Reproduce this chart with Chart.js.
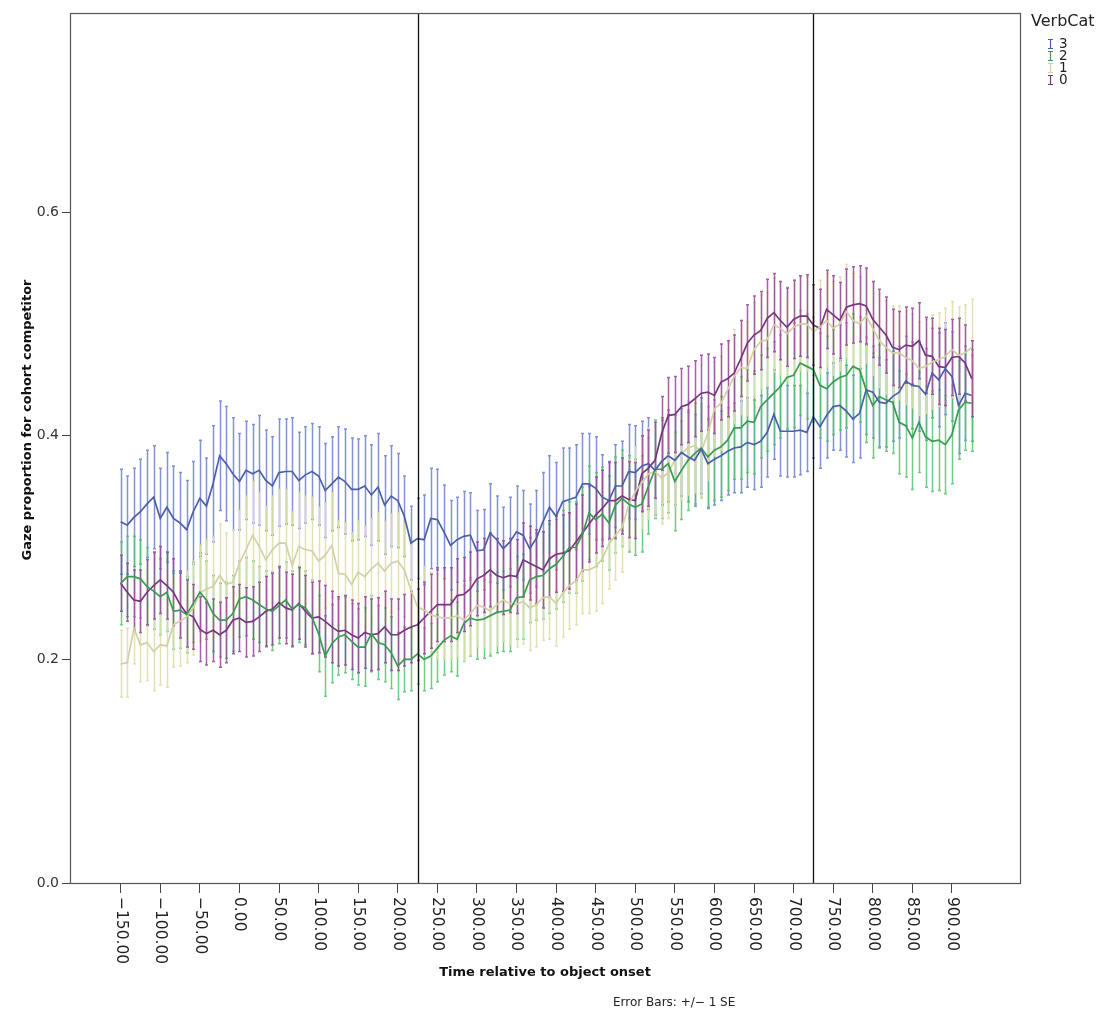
<!DOCTYPE html>
<html>
<head>
<meta charset="utf-8">
<title>Gaze proportion for cohort competitor</title>
<script src="https://cdn.jsdelivr.net/npm/chart.js@4.4.1/dist/chart.umd.min.js"></script>
<style>
  html, body { margin: 0; padding: 0; background: #fff; }
  #wrap { width: 1097px; height: 1010px; }
</style>
</head>
<body>
<div id="wrap"><canvas id="gazeChart" width="1097" height="1010"></canvas></div>
<script>
// --- data (time in ms, proportions, +/- 1 SE) ---

const times = [
  -150, -141.67, -133.33, -125, -116.67, -108.33, -100, -91.67, -83.33, -75,
  -66.67, -58.33, -50, -41.67, -33.33, -25, -16.67, -8.33, 0, 8.33,
  16.67, 25, 33.33, 41.67, 50, 58.33, 66.67, 75, 83.33, 91.67,
  100, 108.33, 116.67, 125, 133.33, 141.67, 150, 158.33, 166.67, 175,
  183.33, 191.67, 200, 208.33, 216.67, 225, 233.33, 241.67, 250, 258.33,
  266.67, 275, 283.33, 291.67, 300, 308.33, 316.67, 325, 333.33, 341.67,
  350, 358.33, 366.67, 375, 383.33, 391.67, 400, 408.33, 416.67, 425,
  433.33, 441.67, 450, 458.33, 466.67, 475, 483.33, 491.67, 500, 508.33,
  516.67, 525, 533.33, 541.67, 550, 558.33, 566.67, 575, 583.33, 591.67,
  600, 608.33, 616.67, 625, 633.33, 641.67, 650, 658.33, 666.67, 675,
  683.33, 691.67, 700, 708.33, 716.67, 725, 733.33, 741.67, 750, 758.33,
  766.67, 775, 783.33, 791.67, 800, 808.33, 816.67, 825, 833.33, 841.67,
  850, 858.33, 866.67, 875, 883.33, 891.67, 900, 908.33, 916.67, 925
];

const verbCat3 = [
  0.323, 0.320, 0.327, 0.332, 0.339, 0.345, 0.326, 0.336, 0.326, 0.322,
  0.316, 0.332, 0.344, 0.337, 0.357, 0.382, 0.375, 0.366, 0.359, 0.369,
  0.366, 0.369, 0.360, 0.355, 0.367, 0.368, 0.368, 0.360, 0.365, 0.368,
  0.364, 0.351, 0.357, 0.363, 0.359, 0.352, 0.352, 0.355, 0.347, 0.354,
  0.338, 0.346, 0.342, 0.328, 0.304, 0.308, 0.307, 0.326, 0.325, 0.314,
  0.302, 0.307, 0.310, 0.311, 0.297, 0.298, 0.313, 0.307, 0.299, 0.305,
  0.314, 0.311, 0.299, 0.308, 0.323, 0.336, 0.328, 0.341, 0.343, 0.345,
  0.357, 0.357, 0.353, 0.345, 0.342, 0.355, 0.355, 0.368, 0.367, 0.373,
  0.375, 0.369, 0.377, 0.382, 0.378, 0.385, 0.381, 0.378, 0.388, 0.375,
  0.379, 0.382, 0.386, 0.389, 0.390, 0.394, 0.392, 0.395, 0.403, 0.419,
  0.404, 0.404, 0.404, 0.405, 0.403, 0.417, 0.408, 0.418, 0.426, 0.427,
  0.422, 0.415, 0.420, 0.441, 0.439, 0.430, 0.429, 0.435, 0.439, 0.449,
  0.445, 0.444, 0.437, 0.456, 0.450, 0.460, 0.453, 0.427, 0.438, 0.436
];
const verbCat3Se = [
  0.047, 0.044, 0.044, 0.047, 0.048, 0.046, 0.045, 0.049, 0.047, 0.045,
  0.044, 0.045, 0.052, 0.043, 0.052, 0.049, 0.051, 0.050, 0.043, 0.044,
  0.044, 0.049, 0.045, 0.044, 0.048, 0.047, 0.048, 0.043, 0.043, 0.043,
  0.044, 0.042, 0.042, 0.045, 0.047, 0.046, 0.045, 0.045, 0.045, 0.048,
  0.044, 0.045, 0.042, 0.036, 0.033, 0.036, 0.040, 0.045, 0.045, 0.042,
  0.040, 0.038, 0.040, 0.038, 0.036, 0.036, 0.044, 0.039, 0.037, 0.040,
  0.041, 0.040, 0.040, 0.043, 0.044, 0.046, 0.048, 0.048, 0.046, 0.047,
  0.045, 0.045, 0.046, 0.038, 0.035, 0.037, 0.040, 0.042, 0.042, 0.040,
  0.041, 0.040, 0.039, 0.041, 0.040, 0.039, 0.040, 0.041, 0.040, 0.040,
  0.041, 0.040, 0.039, 0.040, 0.041, 0.040, 0.040, 0.041, 0.040, 0.040,
  0.040, 0.041, 0.041, 0.040, 0.035, 0.037, 0.037, 0.038, 0.039, 0.040,
  0.041, 0.039, 0.040, 0.040, 0.041, 0.040, 0.039, 0.040, 0.041, 0.040,
  0.039, 0.040, 0.041, 0.040, 0.042, 0.041, 0.040, 0.043, 0.042, 0.041
];

const verbCat2 = [
  0.268, 0.274, 0.274, 0.272, 0.265, 0.261, 0.256, 0.260, 0.243, 0.244,
  0.240, 0.250, 0.260, 0.253, 0.241, 0.235, 0.235, 0.241, 0.254, 0.256,
  0.253, 0.249, 0.245, 0.243, 0.248, 0.253, 0.245, 0.249, 0.246, 0.238,
  0.223, 0.203, 0.214, 0.220, 0.222, 0.216, 0.211, 0.211, 0.223, 0.215,
  0.213, 0.206, 0.194, 0.200, 0.200, 0.205, 0.200, 0.203, 0.210, 0.217,
  0.221, 0.218, 0.232, 0.237, 0.235, 0.236, 0.239, 0.242, 0.243, 0.244,
  0.255, 0.256, 0.271, 0.274, 0.275, 0.281, 0.285, 0.292, 0.300, 0.300,
  0.312, 0.331, 0.325, 0.330, 0.322, 0.338, 0.344, 0.339, 0.336, 0.339,
  0.355, 0.370, 0.370, 0.375, 0.359, 0.369, 0.378, 0.384, 0.389, 0.381,
  0.387, 0.390, 0.396, 0.407, 0.407, 0.413, 0.412, 0.426, 0.432, 0.438,
  0.444, 0.452, 0.454, 0.465, 0.462, 0.459, 0.445, 0.442, 0.448, 0.452,
  0.454, 0.462, 0.459, 0.441, 0.427, 0.435, 0.432, 0.430, 0.412, 0.409,
  0.398, 0.412, 0.399, 0.395, 0.396, 0.392, 0.401, 0.423, 0.430, 0.429
];
const verbCat2Se = [
  0.037, 0.036, 0.036, 0.035, 0.035, 0.034, 0.034, 0.035, 0.034, 0.034,
  0.034, 0.035, 0.035, 0.035, 0.034, 0.033, 0.034, 0.034, 0.034, 0.035,
  0.035, 0.034, 0.034, 0.035, 0.034, 0.034, 0.034, 0.034, 0.033, 0.033,
  0.034, 0.036, 0.035, 0.034, 0.034, 0.034, 0.034, 0.035, 0.034, 0.033,
  0.033, 0.032, 0.030, 0.029, 0.028, 0.027, 0.028, 0.029, 0.030, 0.031,
  0.032, 0.033, 0.034, 0.034, 0.035, 0.035, 0.036, 0.036, 0.036, 0.037,
  0.037, 0.038, 0.038, 0.039, 0.039, 0.040, 0.040, 0.041, 0.041, 0.041,
  0.042, 0.042, 0.042, 0.042, 0.042, 0.043, 0.043, 0.043, 0.043, 0.043,
  0.043, 0.044, 0.044, 0.044, 0.044, 0.044, 0.045, 0.045, 0.045, 0.045,
  0.045, 0.045, 0.045, 0.046, 0.046, 0.046, 0.046, 0.046, 0.046, 0.046,
  0.046, 0.046, 0.047, 0.047, 0.047, 0.047, 0.047, 0.047, 0.047, 0.047,
  0.047, 0.047, 0.047, 0.047, 0.047, 0.046, 0.046, 0.046, 0.046, 0.046,
  0.046, 0.045, 0.045, 0.045, 0.045, 0.044, 0.044, 0.044, 0.043, 0.043
];

const verbCat1 = [
  0.196, 0.197, 0.228, 0.213, 0.215, 0.207, 0.213, 0.212, 0.231, 0.234,
  0.238, 0.246, 0.259, 0.263, 0.265, 0.275, 0.267, 0.269, 0.286, 0.298,
  0.311, 0.301, 0.289, 0.298, 0.304, 0.304, 0.284, 0.301, 0.298, 0.297,
  0.288, 0.293, 0.302, 0.277, 0.276, 0.267, 0.278, 0.274, 0.281, 0.286,
  0.279, 0.286, 0.288, 0.280, 0.262, 0.247, 0.244, 0.240, 0.238, 0.237,
  0.237, 0.239, 0.235, 0.241, 0.248, 0.247, 0.243, 0.249, 0.253, 0.250,
  0.249, 0.252, 0.246, 0.249, 0.255, 0.256, 0.250, 0.259, 0.266, 0.270,
  0.280, 0.280, 0.283, 0.290, 0.303, 0.311, 0.318, 0.338, 0.350, 0.358,
  0.366, 0.368, 0.362, 0.367, 0.378, 0.384, 0.389, 0.391, 0.386, 0.402,
  0.424, 0.429, 0.441, 0.453, 0.461, 0.460, 0.477, 0.484, 0.486, 0.499,
  0.496, 0.491, 0.497, 0.500, 0.500, 0.493, 0.497, 0.503, 0.496, 0.500,
  0.511, 0.503, 0.500, 0.507, 0.496, 0.485, 0.479, 0.474, 0.474, 0.470,
  0.467, 0.460, 0.462, 0.466, 0.468, 0.471, 0.477, 0.472, 0.474, 0.479
];
const verbCat1Se = [
  0.030, 0.031, 0.032, 0.033, 0.034, 0.035, 0.036, 0.037, 0.038, 0.040,
  0.041, 0.042, 0.043, 0.044, 0.045, 0.046, 0.046, 0.047, 0.047, 0.048,
  0.048, 0.048, 0.048, 0.048, 0.048, 0.048, 0.048, 0.048, 0.048, 0.048,
  0.048, 0.047, 0.047, 0.047, 0.046, 0.046, 0.046, 0.045, 0.045, 0.045,
  0.044, 0.044, 0.043, 0.042, 0.041, 0.040, 0.039, 0.038, 0.038, 0.037,
  0.037, 0.037, 0.037, 0.037, 0.037, 0.037, 0.037, 0.037, 0.037, 0.037,
  0.038, 0.038, 0.038, 0.038, 0.038, 0.038, 0.038, 0.039, 0.039, 0.039,
  0.039, 0.039, 0.040, 0.040, 0.040, 0.040, 0.040, 0.040, 0.040, 0.041,
  0.041, 0.041, 0.041, 0.041, 0.041, 0.042, 0.042, 0.042, 0.042, 0.042,
  0.042, 0.042, 0.042, 0.042, 0.042, 0.042, 0.042, 0.042, 0.042, 0.042,
  0.042, 0.042, 0.042, 0.042, 0.042, 0.042, 0.042, 0.042, 0.042, 0.042,
  0.042, 0.042, 0.042, 0.042, 0.042, 0.042, 0.042, 0.042, 0.042, 0.042,
  0.042, 0.042, 0.042, 0.042, 0.042, 0.043, 0.043, 0.043, 0.043, 0.043
];

const verbCat0 = [
  0.268, 0.260, 0.253, 0.252, 0.260, 0.266, 0.271, 0.266, 0.260, 0.249,
  0.241, 0.238, 0.227, 0.223, 0.226, 0.222, 0.226, 0.235, 0.237, 0.233,
  0.234, 0.238, 0.243, 0.245, 0.251, 0.246, 0.244, 0.250, 0.243, 0.237,
  0.238, 0.234, 0.229, 0.225, 0.226, 0.222, 0.219, 0.224, 0.222, 0.223,
  0.229, 0.222, 0.222, 0.226, 0.229, 0.231, 0.237, 0.243, 0.249, 0.249,
  0.249, 0.257, 0.258, 0.263, 0.272, 0.275, 0.280, 0.275, 0.273, 0.275,
  0.274, 0.289, 0.286, 0.283, 0.280, 0.290, 0.294, 0.295, 0.297, 0.305,
  0.313, 0.321, 0.329, 0.335, 0.342, 0.342, 0.346, 0.343, 0.342, 0.366,
  0.371, 0.378, 0.402, 0.418, 0.419, 0.426, 0.428, 0.433, 0.438, 0.439,
  0.436, 0.448, 0.451, 0.456, 0.469, 0.483, 0.490, 0.494, 0.505, 0.510,
  0.503, 0.497, 0.504, 0.507, 0.507, 0.499, 0.496, 0.513, 0.508, 0.503,
  0.515, 0.517, 0.518, 0.516, 0.504, 0.497, 0.490, 0.479, 0.477, 0.481,
  0.480, 0.485, 0.472, 0.471, 0.462, 0.461, 0.470, 0.471, 0.465, 0.451
];
const verbCat0Se = [
  0.025, 0.026, 0.027, 0.028, 0.029, 0.030, 0.030, 0.030, 0.030, 0.030,
  0.030, 0.029, 0.029, 0.028, 0.028, 0.029, 0.029, 0.030, 0.030, 0.031,
  0.031, 0.031, 0.031, 0.032, 0.032, 0.032, 0.032, 0.032, 0.032, 0.032,
  0.032, 0.032, 0.032, 0.031, 0.031, 0.031, 0.031, 0.032, 0.032, 0.032,
  0.032, 0.032, 0.032, 0.032, 0.032, 0.032, 0.032, 0.033, 0.033, 0.033,
  0.033, 0.033, 0.033, 0.033, 0.033, 0.033, 0.033, 0.033, 0.033, 0.033,
  0.033, 0.033, 0.033, 0.033, 0.034, 0.034, 0.034, 0.034, 0.034, 0.034,
  0.034, 0.034, 0.034, 0.034, 0.034, 0.034, 0.034, 0.034, 0.034, 0.034,
  0.034, 0.034, 0.033, 0.034, 0.034, 0.034, 0.034, 0.034, 0.034, 0.034,
  0.034, 0.034, 0.034, 0.034, 0.034, 0.034, 0.035, 0.035, 0.035, 0.035,
  0.035, 0.035, 0.035, 0.036, 0.037, 0.036, 0.035, 0.035, 0.035, 0.034,
  0.034, 0.034, 0.034, 0.034, 0.034, 0.034, 0.034, 0.034, 0.034, 0.034,
  0.034, 0.034, 0.034, 0.034, 0.034, 0.034, 0.034, 0.034, 0.034, 0.034
];

const seriesNames = ['3', '2', '1', '0'];
const seriesMeans = [verbCat3, verbCat2, verbCat1, verbCat0];
const seriesSe = [verbCat3Se, verbCat2Se, verbCat1Se, verbCat0Se];
const lineColors = ['#4d5fab', '#3a9c50', '#d3d0a4', '#7a3580'];
const barColors = ['rgba(108,128,206,0.85)', 'rgba(84,196,108,0.85)', 'rgba(222,222,168,0.9)', 'rgba(150,68,156,0.85)'];

const xTickValues = [-150, -100, -50, 0, 50, 100, 150, 200, 250, 300, 350, 400, 450, 500, 550, 600, 650, 700, 750, 800, 850, 900];
const yTickValues = [0, 0.2, 0.4, 0.6];
const referenceTimes = [225, 725];

const FONT = '"DejaVu Sans", sans-serif';

// =============================================================================
//  PLUGINS (error bars, frame, rotated labels, legend)
// =============================================================================

const errorBarPlugin = {
    id: 'errorBars',
    beforeDatasetsDraw(chart) {
        const ctx = chart.ctx;
        const xs = chart.scales.x;
        const ys = chart.scales.y;
        ctx.save();
        seriesMeans.forEach((means, s) => {
            ctx.strokeStyle = barColors[s];
            ctx.lineWidth = 1.5;
            means.forEach((m, i) => {
                const se = seriesSe[s][i];
                const px = Math.round(xs.getPixelForValue(times[i])) + 0.5;
                const top = ys.getPixelForValue(m + se);
                const bot = ys.getPixelForValue(m - se);
                ctx.beginPath();
                ctx.moveTo(px, top);
                ctx.lineTo(px, bot);
                ctx.moveTo(px - 1.5, top);
                ctx.lineTo(px + 1.5, top);
                ctx.moveTo(px - 1.5, bot);
                ctx.lineTo(px + 1.5, bot);
                ctx.stroke();
            });
        });
        ctx.restore();
    }
};

const decorPlugin = {
    id: 'decor',
    afterDatasetsDraw(chart) {
        const ctx = chart.ctx;
        const area = chart.chartArea;
        const xs = chart.scales.x;
        ctx.save();
        // reference lines
        ctx.strokeStyle = '#111';
        ctx.lineWidth = 1.3;
        referenceTimes.forEach(t => {
            const px = Math.round(xs.getPixelForValue(t)) + 0.5;
            ctx.beginPath();
            ctx.moveTo(px, area.top);
            ctx.lineTo(px, area.bottom);
            ctx.stroke();
        });
        // plot frame
        ctx.strokeStyle = '#555';
        ctx.lineWidth = 1.2;
        ctx.strokeRect(area.left + 0.5, area.top + 0.5, area.right - area.left, area.bottom - area.top);
        ctx.restore();
    },
    afterDraw(chart) {
        const ctx = chart.ctx;
        const area = chart.chartArea;
        const xs = chart.scales.x;
        ctx.save();

        // x tick labels, rotated clockwise
        ctx.fillStyle = '#222';
        ctx.font = '15.5px ' + FONT;
        ctx.textAlign = 'left';
        ctx.textBaseline = 'middle';
        xTickValues.forEach(v => {
            const px = xs.getPixelForValue(v);
            const label = (v < 0 ? '\u2212' : '') + Math.abs(v).toFixed(2);
            ctx.save();
            ctx.translate(px, area.bottom + 14);
            ctx.rotate(Math.PI / 2);
            ctx.fillText(label, 0, 0);
            ctx.restore();
        });

        // axis titles
        ctx.fillStyle = '#111';
        ctx.font = 'bold 13px ' + FONT;
        ctx.textAlign = 'center';
        ctx.textBaseline = 'alphabetic';
        ctx.fillText('Time relative to object onset', (area.left + area.right) / 2, 976);

        ctx.save();
        ctx.translate(28, 420);
        ctx.rotate(-Math.PI / 2);
        ctx.textBaseline = 'middle';
        ctx.fillText('Gaze proportion for cohort competitor', 0, 0);
        ctx.restore();

        // footnote
        ctx.fillStyle = '#222';
        ctx.font = '12px ' + FONT;
        ctx.textAlign = 'left';
        ctx.fillText('Error Bars: +/\u2212 1 SE', 613, 1006);

        // legend
        ctx.font = '16px ' + FONT;
        ctx.fillStyle = '#222';
        ctx.textAlign = 'left';
        ctx.textBaseline = 'alphabetic';
        ctx.fillText('VerbCat', 1031, 26);
        ctx.font = '13.5px ' + FONT;
        ctx.textBaseline = 'middle';
        seriesNames.forEach((name, s) => {
            const cy = 44 + s * 12;
            ctx.strokeStyle = lineColors[s];
            ctx.lineWidth = 1.2;
            ctx.beginPath();
            ctx.moveTo(1050.5, cy - 4.5);
            ctx.lineTo(1050.5, cy + 4.5);
            ctx.moveTo(1048, cy - 4.5);
            ctx.lineTo(1053, cy - 4.5);
            ctx.moveTo(1048, cy + 4.5);
            ctx.lineTo(1053, cy + 4.5);
            ctx.stroke();
            ctx.fillStyle = '#222';
            ctx.fillText(name, 1059, cy);
        });
        ctx.restore();
    }
};

// =============================================================================
//  CHART
// =============================================================================

const datasets = seriesMeans.map((means, s) => ({
    label: seriesNames[s],
    data: times.map((t, i) => ({ x: t, y: means[i] })),
    borderColor: lineColors[s],
    borderWidth: 1.7,
    pointRadius: 0,
    tension: 0,
    fill: false
}));

new Chart(document.getElementById('gazeChart').getContext('2d'), {
    type: 'line',
    data: { datasets },
    options: {
        responsive: false,
        animation: false,
        devicePixelRatio: 1,
        layout: { padding: { top: 13, right: 77, left: 0, bottom: 0 } },
        scales: {
            x: {
                type: 'linear',
                min: -214,
                max: 986,
                afterBuildTicks: (scale) => { scale.ticks = xTickValues.map(v => ({ value: v })); },
                afterFit: (scale) => { scale.height = 127; },
                ticks: { display: false },
                grid: { drawOnChartArea: false, drawTicks: true, tickLength: 10, color: '#444', lineWidth: 1 },
                border: { display: false }
            },
            y: {
                min: 0,
                max: 0.778,
                afterBuildTicks: (scale) => { scale.ticks = yTickValues.map(v => ({ value: v })); },
                afterFit: (scale) => { scale.width = 70; },
                ticks: {
                    callback: (v) => Number(v).toFixed(1),
                    font: { family: 'DejaVu Sans', size: 14 },
                    color: '#333',
                    padding: 3
                },
                grid: { drawOnChartArea: false, drawTicks: true, tickLength: 8, color: '#444', lineWidth: 1 },
                border: { display: false }
            }
        },
        plugins: {
            legend: { display: false },
            tooltip: { enabled: false }
        }
    },
    plugins: [errorBarPlugin, decorPlugin]
});
</script>
</body>
</html>
